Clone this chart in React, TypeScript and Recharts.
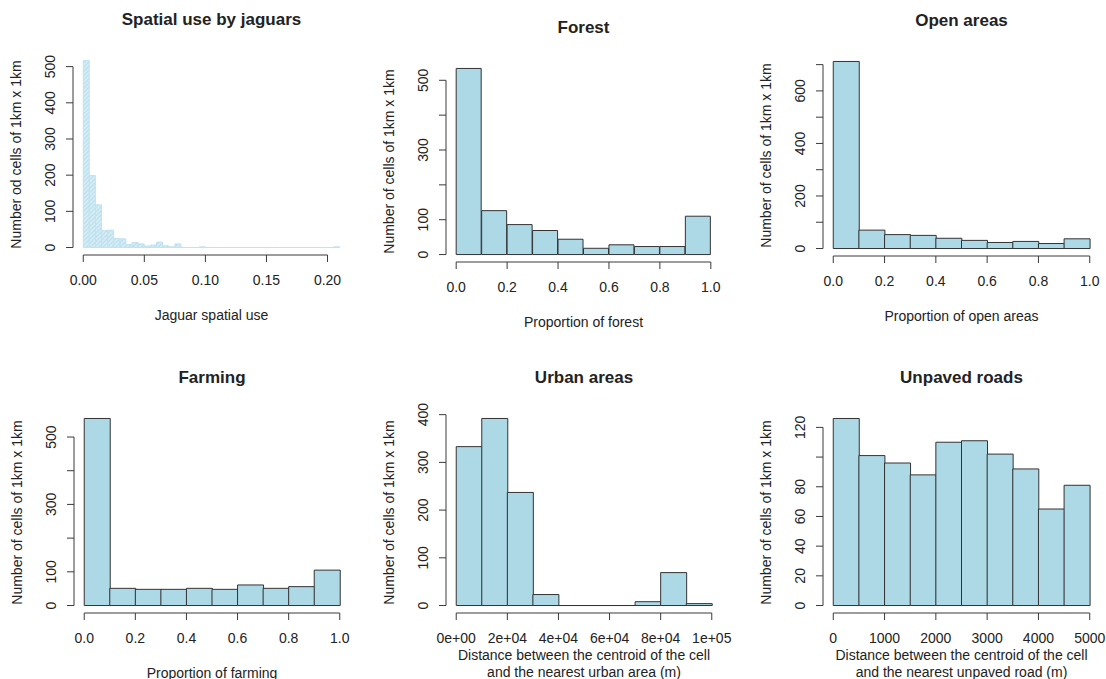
import React from 'react'
import { ComposedChart, Bar, Line, XAxis, YAxis, ReferenceLine } from 'recharts'

const FONT = '"Liberation Sans", Arial, Helvetica, sans-serif'
const INK = '#222'
const AXIS = '#3a3a3a'
const FILL = '#add8e6'
const EDGE = '#333'

// --- data (bin edges + counts per bin) ---

const jaguarBreaks = [
  0, 0.005, 0.01, 0.015, 0.02, 0.025, 0.03, 0.035, 0.04, 0.045, 0.05, 0.055, 0.06, 0.065,
  0.07, 0.075, 0.08, 0.085, 0.09, 0.095, 0.1, 0.105, 0.11, 0.115, 0.12, 0.125, 0.13, 0.135,
  0.14, 0.145, 0.15, 0.155, 0.16, 0.165, 0.17, 0.175, 0.18, 0.185, 0.19, 0.195, 0.2, 0.205, 0.21,
]
const jaguarCounts = [
  517, 199, 118, 47, 48, 25, 24, 8, 14, 10, 4, 7, 15, 5, 2, 10, 0, 0, 0, 2, 0, 0, 0, 0, 0, 0,
  0, 0, 0, 0, 0, 0, 0, 0, 0, 0, 0, 0, 0, 0, 0, 2,
]
const jaguarXTicks = [0, 0.05, 0.1, 0.15, 0.2]
const jaguarXLabels = ['0.00', '0.05', '0.10', '0.15', '0.20']
const jaguarYTicks = [0, 100, 200, 300, 400, 500]
const jaguarYLabels = ['0', '100', '200', '300', '400', '500']

const proportionBreaks = [0, 0.1, 0.2, 0.3, 0.4, 0.5, 0.6, 0.7, 0.8, 0.9, 1.0]
const proportionXTicks = [0, 0.2, 0.4, 0.6, 0.8, 1.0]
const proportionXLabels = ['0.0', '0.2', '0.4', '0.6', '0.8', '1.0']

const forestCounts = [534, 126, 86, 69, 44, 18, 28, 23, 23, 110]
const forestYTicks = [0, 100, 200, 300, 400, 500]
const forestYLabels = ['0', '100', '', '300', '', '500']

const openCounts = [712, 70, 53, 50, 39, 31, 23, 27, 19, 37]
const openYTicks = [0, 100, 200, 300, 400, 500, 600, 700]
const openYLabels = ['0', '', '200', '', '400', '', '600', '']

const farmingCounts = [555, 51, 48, 48, 51, 48, 61, 51, 56, 105]
const farmingYTicks = [0, 100, 200, 300, 400, 500]
const farmingYLabels = ['0', '100', '', '300', '', '500']

const urbanBreaks = [0, 1e4, 2e4, 3e4, 4e4, 5e4, 6e4, 7e4, 8e4, 9e4, 1e5]
const urbanCounts = [333, 392, 237, 23, 0, 0, 0, 8, 69, 4]
const urbanXTicks = [0, 2e4, 4e4, 6e4, 8e4, 1e5]
const urbanXLabels = ['0e+00', '2e+04', '4e+04', '6e+04', '8e+04', '1e+05']
const urbanYTicks = [0, 100, 200, 300, 400]
const urbanYLabels = ['0', '100', '200', '300', '400']

const roadBreaks = [0, 500, 1000, 1500, 2000, 2500, 3000, 3500, 4000, 4500, 5000]
const roadCounts = [126, 101, 96, 88, 110, 111, 102, 92, 65, 81]
const roadXTicks = [0, 1000, 2000, 3000, 4000, 5000]
const roadXLabels = ['0', '1000', '2000', '3000', '4000', '5000']
const roadYTicks = [0, 20, 40, 60, 80, 100, 120]
const roadYLabels = ['0', '20', '40', '60', '80', '', '120']

// --- layout ---

type Plot = { left: number; top: number; width: number; height: number }

const Y_AXIS_W = 72
const X_AXIS_H = 40
const PAD_TOP = 10
const PAD_RIGHT = 24

interface HistProps {
  title: string
  breaks: number[]
  counts: number[]
  xTicks: number[]
  xTickLabels: string[]
  yTicks: number[]
  yTickLabels: string[]
  xLabel: string[]
  yLabel: string
  plot: Plot
  hatched?: boolean
}

function RotatedTick(props: any) {
  const { x, y, payload, ticks, labels } = props
  const text = labels[ticks.indexOf(payload.value)]
  if (!text) return <g />
  return (
    <text
      x={x}
      y={y}
      dy="0.35em"
      textAnchor="middle"
      transform={`rotate(-90 ${x} ${y})`}
      fill={INK}
      fontSize={14}
      fontFamily={FONT}
    >
      {text}
    </text>
  )
}

function Histogram(p: HistProps) {
  const { plot } = p
  const lo = p.breaks[0]
  const hi = p.breaks[p.breaks.length - 1]
  const xExt = (hi - lo) * 0.04
  const maxCount = Math.max(...p.counts)
  const yExt = maxCount * 0.04
  // R widens each axis by 4% of the data range; the bin axis gets the same inset in px
  const pad = (plot.width * 0.04) / 1.08
  const axisY = plot.top + plot.height

  const data = p.counts.map((c, i) => ({
    bin: `${p.breaks[i]}-${p.breaks[i + 1]}`,
    mid: (p.breaks[i] + p.breaks[i + 1]) / 2,
    count: c,
  }))

  const textStyle: React.CSSProperties = {
    position: 'absolute',
    fontFamily: FONT,
    fontSize: 14,
    color: INK,
    textAlign: 'center',
    lineHeight: '17px',
    whiteSpace: 'nowrap',
  }

  const firstLabelCenter = p.xLabel.length > 1 ? 42 : 60

  return (
    <>
      <div
        style={{
          ...textStyle,
          left: plot.left - 40,
          width: plot.width + 80,
          top: plot.top - 43,
          fontSize: 17,
          fontWeight: 'bold',
          lineHeight: '20px',
        }}
      >
        {p.title}
      </div>
      <div
        style={{
          ...textStyle,
          left: plot.left - 57 - plot.height / 2,
          top: plot.top + plot.height / 2 - 8.5,
          width: plot.height,
          transform: 'rotate(-90deg)',
        }}
      >
        {p.yLabel}
      </div>
      <div
        style={{
          ...textStyle,
          left: plot.left - 40,
          width: plot.width + 80,
          top: axisY + firstLabelCenter - 8.5,
        }}
      >
        {p.xLabel.map((line) => (
          <div key={line}>{line}</div>
        ))}
      </div>
      <div style={{ position: 'absolute', left: plot.left - Y_AXIS_W, top: plot.top - PAD_TOP }}>
        <ComposedChart
          width={Y_AXIS_W + plot.width + PAD_RIGHT}
          height={PAD_TOP + plot.height + X_AXIS_H}
          data={data}
          margin={{ top: PAD_TOP, right: PAD_RIGHT, bottom: 0, left: 0 }}
          barCategoryGap={0}
          barGap={0}
        >
          <XAxis
            xAxisId="bins"
            dataKey="bin"
            type="category"
            hide
            height={0}
            padding={{ left: pad, right: pad }}
          />
          <XAxis
            xAxisId="num"
            dataKey="mid"
            type="number"
            domain={[lo - xExt, hi + xExt]}
            allowDataOverflow
            ticks={p.xTicks}
            interval={0}
            height={X_AXIS_H}
            axisLine={false}
            tickSize={7}
            tickMargin={13}
            tickLine={{ stroke: AXIS }}
            tickFormatter={(_v: number, i: number) => p.xTickLabels[i]}
            tick={{ fill: INK, fontSize: 14, fontFamily: FONT }}
          />
          <YAxis
            type="number"
            width={Y_AXIS_W}
            domain={[-yExt, maxCount + yExt]}
            allowDataOverflow
            ticks={p.yTicks}
            interval={0}
            axisLine={false}
            tickSize={7}
            tickMargin={16}
            tickLine={{ stroke: AXIS }}
            tick={(tp: any) => <RotatedTick {...tp} ticks={p.yTicks} labels={p.yTickLabels} />}
          />
          <ReferenceLine
            xAxisId="num"
            ifOverflow="visible"
            stroke={AXIS}
            segment={[
              { x: lo - xExt, y: p.yTicks[0] },
              { x: lo - xExt, y: p.yTicks[p.yTicks.length - 1] },
            ]}
          />
          <ReferenceLine
            xAxisId="num"
            ifOverflow="visible"
            stroke={AXIS}
            segment={[
              { x: p.xTicks[0], y: -yExt },
              { x: p.xTicks[p.xTicks.length - 1], y: -yExt },
            ]}
          />
          <Bar
            xAxisId="bins"
            dataKey="count"
            fill={p.hatched ? 'url(#jaguarHatch)' : FILL}
            stroke={p.hatched ? '#c2e2ee' : EDGE}
            strokeWidth={1}
            minPointSize={0.01}
            isAnimationActive={false}
          />
          {/* invisible series so the numeric axis has data of its own */}
          <Line
            xAxisId="num"
            dataKey="count"
            stroke="none"
            dot={false}
            activeDot={false}
            legendType="none"
            isAnimationActive={false}
          />
        </ComposedChart>
      </div>
    </>
  )
}

export default function App() {
  return (
    <div
      style={{
        position: 'absolute',
        left: 0,
        top: 0,
        width: 1106,
        height: 679,
        background: '#fff',
        overflow: 'hidden',
      }}
    >
      <svg width={0} height={0} style={{ position: 'absolute' }}>
        <defs>
          <pattern
            id="jaguarHatch"
            patternUnits="userSpaceOnUse"
            width={3}
            height={3}
            patternTransform="rotate(45)"
          >
            <rect width={3} height={3} fill="#d3ecf5" />
            <line x1={0} y1={0} x2={0} y2={3} stroke="#a9d5e6" strokeWidth={1.2} />
          </pattern>
        </defs>
      </svg>

      <Histogram
        title="Spatial use by jaguars"
        breaks={jaguarBreaks}
        counts={jaguarCounts}
        xTicks={jaguarXTicks}
        xTickLabels={jaguarXLabels}
        yTicks={jaguarYTicks}
        yTickLabels={jaguarYLabels}
        xLabel={['Jaguar spatial use']}
        yLabel="Number od cells of 1km x 1km"
        plot={{ left: 73, top: 53, width: 277, height: 202 }}
        hatched
      />
      <Histogram
        title="Forest"
        breaks={proportionBreaks}
        counts={forestCounts}
        xTicks={proportionXTicks}
        xTickLabels={proportionXLabels}
        yTicks={forestYTicks}
        yTickLabels={forestYLabels}
        xLabel={['Proportion of forest']}
        yLabel="Number of cells of 1km x 1km"
        plot={{ left: 446, top: 61, width: 275, height: 201 }}
      />
      <Histogram
        title="Open areas"
        breaks={proportionBreaks}
        counts={openCounts}
        xTicks={proportionXTicks}
        xTickLabels={proportionXLabels}
        yTicks={openYTicks}
        yTickLabels={openYLabels}
        xLabel={['Proportion of open areas']}
        yLabel="Number of cells of 1km x 1km"
        plot={{ left: 823, top: 54, width: 277, height: 202 }}
      />
      <Histogram
        title="Farming"
        breaks={proportionBreaks}
        counts={farmingCounts}
        xTicks={proportionXTicks}
        xTickLabels={proportionXLabels}
        yTicks={farmingYTicks}
        yTickLabels={farmingYLabels}
        xLabel={['Proportion of farming']}
        yLabel="Number of cells of 1km x 1km"
        plot={{ left: 74, top: 411, width: 276, height: 202 }}
      />
      <Histogram
        title="Urban areas"
        breaks={urbanBreaks}
        counts={urbanCounts}
        xTicks={urbanXTicks}
        xTickLabels={urbanXLabels}
        yTicks={urbanYTicks}
        yTickLabels={urbanYLabels}
        xLabel={['Distance between the centroid of the cell', 'and the nearest urban area (m)']}
        yLabel="Number of cells of 1km x 1km"
        plot={{ left: 446, top: 411, width: 276, height: 202 }}
      />
      <Histogram
        title="Unpaved roads"
        breaks={roadBreaks}
        counts={roadCounts}
        xTicks={roadXTicks}
        xTickLabels={roadXLabels}
        yTicks={roadYTicks}
        yTickLabels={roadYLabels}
        xLabel={['Distance between the centroid of the cell', 'and the nearest unpaved road (m)']}
        yLabel="Number of cells of 1km x 1km"
        plot={{ left: 823, top: 411, width: 277, height: 202 }}
      />
    </div>
  )
}
